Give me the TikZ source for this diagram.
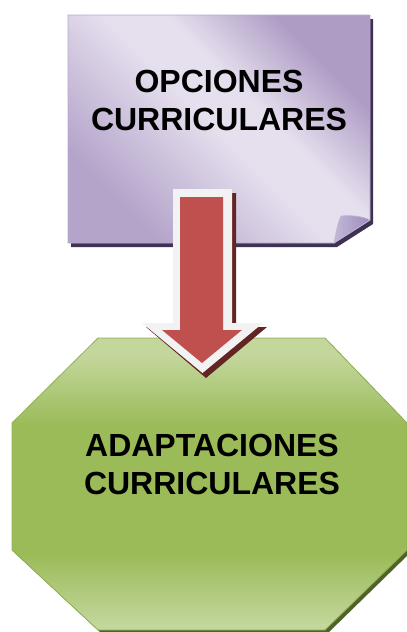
\documentclass[tikz,border=0pt]{standalone}
\usepackage{fontspec}
\setmainfont{Liberation Sans}
\definecolor{nd}{HTML}{AE9CC5}
\definecolor{nd2}{HTML}{B4A4CA}
\definecolor{nl}{HTML}{E6E0EE}
\definecolor{nshadow}{HTML}{3F3151}
\definecolor{nborder}{HTML}{B8AACE}
\definecolor{nflap}{HTML}{9D8DBC}
\definecolor{nflapl}{HTML}{C2B7D8}
\definecolor{gl}{HTML}{C3D69B}
\definecolor{gd}{HTML}{9BBB59}
\definecolor{gborder}{HTML}{8DB051}
\definecolor{gshadow}{HTML}{4F6228}
\definecolor{ared}{HTML}{C0504D}
\definecolor{awhite}{HTML}{F2F2F2}
\definecolor{ashadow}{HTML}{632523}
\pgfdeclarehorizontalshading{notesh}{100bp}{color(0bp)=(nd2); color(27bp)=(nd2); color(50bp)=(nl); color(58bp)=(nl); color(73bp)=(nd); color(100bp)=(nd)}
\pgfdeclareverticalshading{octsh}{100bp}{color(0bp)=(gl); color(26bp)=(gl); color(38bp)=(gd); color(60bp)=(gd); color(72bp)=(gl); color(100bp)=(gl)}
\tikzset{
  lbl/.style={font=\bfseries\fontsize{32}{38}\selectfont, align=center, text=black, inner sep=0pt},
}
\begin{document}
\begin{tikzpicture}[x=1pt,y=-1pt]
\useasboundingbox (0,0) rectangle (407,632);
% note shadow
\fill[nshadow] (71,19) -- (373,19) -- (373,224) -- (337,247) -- (71,247) -- cycle;
% note
\path[shading=notesh, shading angle=45, draw=nborder, line width=0.8pt]
  (68,15) -- (370,15) -- (370,220) -- (334,243) -- (68,243) -- cycle;
% fold flap
\path[left color=nflapl, right color=nflap, draw=nflapl, line width=0.6pt]
  (334,243) .. controls (336,232) and (338,222) .. (341,216)
  .. controls (350,215) and (362,216) .. (370,220) -- cycle;
\node[lbl] (op) at (219,100) {OPCIONES\\CURRICULARES};
% octagon shadow
\fill[gshadow] (101,341) -- (328,341) -- (410,426) -- (410,553) -- (328,633) -- (101,633) -- (15,553) -- (15,426) -- cycle;
% octagon
\path[shading=octsh, draw=gborder, line width=0.8pt]
  (98,338) -- (325,338) -- (407,423) -- (407,550) -- (325,630) -- (98,630) -- (12,550) -- (12,423) -- cycle;
\node[lbl] (ad) at (212,464) {ADAPTACIONES\\CURRICULARES};
% arrow
\fill[ashadow] (177,193) -- (236,193) -- (236,327) -- (267,327) -- (206,378) -- (146,327) -- (177,327) -- cycle;
\fill[awhite] (173,189) -- (232,189) -- (232,323) -- (263,323) -- (202.5,373) -- (142,323) -- (173,323) -- cycle;
\fill[ared] (180,197) -- (223,197) -- (223,330) -- (242,330) -- (202,363) -- (162,330) -- (180,330) -- cycle;
\end{tikzpicture}
\end{document}
